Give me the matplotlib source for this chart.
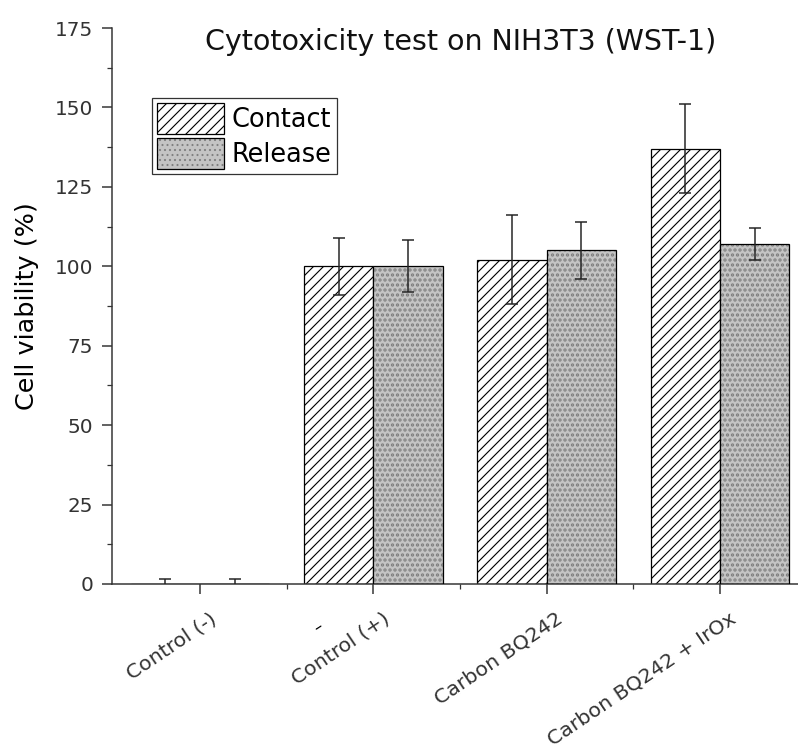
import matplotlib
matplotlib.use("Agg")
import matplotlib.pyplot as plt
import matplotlib.transforms as mtransforms
import numpy as np

# data
groups = ["Control (-)", "Control (+)", "Carbon BQ242", "Carbon BQ242 + IrOx"]
contact = [0, 100, 102, 137]
contact_err = [1.6, 9, 14, 14]
release = [0, 100, 105, 107]
release_err = [1.6, 8.2, 9, 5]

DPI = 90
plt.rcParams['font.family'] = ['DejaVu Sans']
plt.rcParams['hatch.linewidth'] = 0.9

fig = plt.figure(figsize=(798 / DPI, 749 / DPI), dpi=DPI)
ax = fig.add_axes([0.1404, 0.2203, 0.8596, 0.7423])

x = np.arange(len(groups))
w = 0.4
dot_color = '#808080'
fill_color = '#c4c4c4'
dot_lw = 1.8


def thick_dots(patches):
    for p in patches:
        if hasattr(p, 'set_hatch_linewidth'):
            p.set_hatch_linewidth(dot_lw)


# contact: white with diagonal hatch
bars_c = ax.bar(x - w / 2, contact, w, color='white', edgecolor='black',
                hatch='///', linewidth=1.0, zorder=2)

# release: grey dotted fill, then a black outline on top
with plt.rc_context({'hatch.linewidth': dot_lw}):
    bars_r = ax.bar(x + w / 2, release, w, color=fill_color, edgecolor=dot_color,
                    hatch='...', linewidth=0, zorder=2)
thick_dots(bars_r)
ax.bar(x + w / 2, release, w, fill=False, edgecolor='black', linewidth=1.0, zorder=3)

ax.errorbar(x - w / 2, contact, yerr=contact_err, fmt='none', ecolor='#222222',
            elinewidth=1.2, capsize=4.4, capthick=1.2, zorder=4)
ax.errorbar(x + w / 2, release, yerr=release_err, fmt='none', ecolor='#222222',
            elinewidth=1.2, capsize=4.4, capthick=1.2, zorder=4)

ax.set_xlim(-0.508, 3.451)
ax.set_ylim(0, 175)

ax.spines['top'].set_visible(False)
ax.spines['right'].set_visible(False)
for s in ['left', 'bottom']:
    ax.spines[s].set_linewidth(1.2)
    ax.spines[s].set_color('#333333')

ax.set_yticks(np.arange(0, 176, 25))
ax.set_yticks(np.arange(12.5, 175, 25), minor=True)
ax.set_xticks(x)
ax.set_xticks(x[:-1] + 0.5, minor=True)
ax.set_xticklabels(groups, rotation=34, ha='right', va='top', rotation_mode='anchor',
                   fontsize=16.4)

ax.tick_params(axis='both', which='major', direction='out', length=8, width=1.2,
               color='#333333', labelcolor='#333333')
ax.tick_params(axis='y', which='major', labelsize=16, pad=7)
ax.tick_params(axis='both', which='minor', direction='out', length=4, width=1.0,
               color='#333333')
ax.tick_params(axis='x', which='major', pad=12)

shift = mtransforms.ScaledTranslation(9 / DPI, 0, fig.dpi_scale_trans)
for lab in ax.get_xticklabels():
    lab.set_transform(lab.get_transform() + shift)

ax.set_ylabel("Cell viability (%)", fontsize=20.4)
ax.yaxis.set_label_coords(-0.106, 0.5)
ax.set_title("Cytotoxicity test on NIH3T3 (WST-1)", fontsize=22.8,
             x=0.508, y=0.9604, pad=0, va='baseline', color='#111111')

# legend handles: dotted fill plus black outline
with plt.rc_context({'hatch.linewidth': dot_lw}):
    fill_h = plt.Rectangle((0, 0), 1, 1, facecolor=fill_color, edgecolor=dot_color,
                           hatch='...', linewidth=0)
thick_dots([fill_h])
edge_h = plt.Rectangle((0, 0), 1, 1, fill=False, edgecolor='black', linewidth=1.0)
leg = ax.legend([bars_c[0], (fill_h, edge_h)], ["Contact", "Release"],
                loc='upper left', bbox_to_anchor=(0.0583, 0.874), borderaxespad=0,
                fontsize=20.5, frameon=True, fancybox=False, edgecolor='black',
                handlelength=2.6, handleheight=1.45, handletextpad=0.32,
                labelspacing=0.18, borderpad=0.2)
leg.get_frame().set_linewidth(1.0)

# stray dash left in the original picture near the second label
fig.text(318 / 798, 1 - 627 / 749, '\u2013', rotation=33, fontsize=13,
         ha='center', va='center', color='black')

fig.savefig("out.png", dpi=DPI)
